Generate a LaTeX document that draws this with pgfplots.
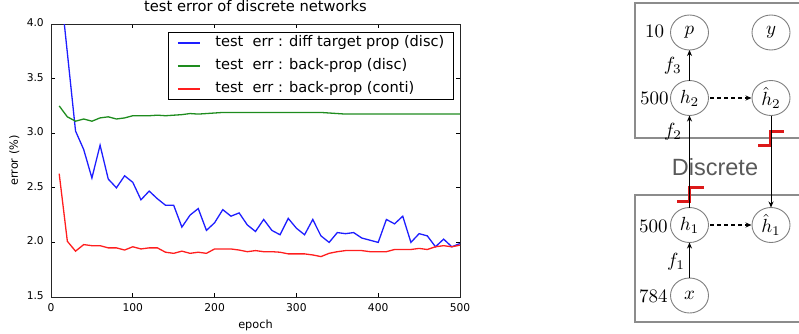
\documentclass[border=0pt]{standalone}
\usepackage{fontspec}
\usepackage{pgfplots}
\pgfplotsset{compat=1.18}
\usetikzlibrary{arrows.meta}
\newfontfamily\dejavu{DejaVu Sans}
\newfontfamily\libsans{Liberation Sans}
\definecolor{mblue}{RGB}{30,30,255}
\definecolor{mgreen}{RGB}{30,140,30}
\definecolor{mred}{RGB}{255,30,30}
\definecolor{stepred}{RGB}{220,25,25}
\pgfplotstableread{
x y
10 4.45
20 3.735
30 3.02
40 2.85
50 2.59
60 2.89
70 2.58
80 2.50
90 2.61
100 2.55
110 2.39
120 2.47
130 2.40
140 2.34
150 2.34
160 2.14
170 2.25
180 2.31
190 2.11
200 2.18
210 2.30
220 2.24
230 2.27
240 2.16
250 2.10
260 2.21
270 2.11
280 2.07
290 2.22
300 2.13
310 2.07
320 2.21
330 2.06
340 2.00
350 2.09
360 2.08
370 2.09
380 2.04
390 2.02
400 2.00
410 2.21
420 2.17
430 2.24
440 2.00
450 2.08
460 2.06
470 1.96
480 2.03
490 1.96
500 1.99
}\bluedata
\pgfplotstableread{
x y
10 3.25
20 3.15
30 3.11
40 3.13
50 3.11
60 3.14
70 3.15
80 3.13
90 3.14
100 3.16
110 3.16
120 3.16
130 3.165
140 3.16
150 3.165
160 3.17
170 3.18
180 3.175
190 3.18
200 3.185
210 3.19
220 3.19
230 3.19
240 3.19
250 3.19
260 3.19
270 3.19
280 3.19
290 3.19
300 3.19
310 3.19
320 3.19
330 3.19
340 3.185
350 3.18
360 3.175
370 3.175
380 3.175
390 3.175
400 3.175
410 3.175
420 3.175
430 3.175
440 3.175
450 3.175
460 3.175
470 3.175
480 3.175
490 3.175
500 3.175
}\greendata
\pgfplotstableread{
x y
10 2.63
20 2.01
30 1.92
40 1.98
50 1.97
60 1.97
70 1.95
80 1.95
90 1.93
100 1.96
110 1.94
120 1.95
130 1.95
140 1.91
150 1.90
160 1.92
170 1.90
180 1.91
190 1.90
200 1.94
210 1.94
220 1.94
230 1.93
240 1.915
250 1.925
260 1.915
270 1.915
280 1.91
290 1.895
300 1.895
310 1.895
320 1.885
330 1.87
340 1.90
350 1.915
360 1.925
370 1.925
380 1.925
390 1.915
400 1.915
410 1.915
420 1.935
430 1.935
440 1.935
450 1.945
460 1.935
470 1.96
480 1.97
490 1.96
500 1.975
}\reddata
\begin{document}
\begin{tikzpicture}
\useasboundingbox (0pt,0pt) rectangle (799pt,333pt);
\begin{axis}[
  at={(51pt,36pt)}, anchor=south west, scale only axis,
  width=409pt, height=273pt,
  xmin=0, xmax=500, ymin=1.5, ymax=4.0,
  xtick={0,100,...,500}, ytick={1.5,2.0,...,4.0},
  /pgf/number format/assume math mode=true,
  tick label style={font=\dejavu\fontsize{10.7}{12}\selectfont, inner sep=0pt},
  xticklabel style={anchor=base, yshift=-14pt},
  yticklabel style={anchor=base east, xshift=-7pt, yshift=-2.4pt,
    /pgf/number format/fixed, /pgf/number format/fixed zerofill, /pgf/number format/precision=1},
  tick align=inside, major tick length=4pt,
  tick style={black, line width=0.8pt},
  axis line style={black!85, line width=1pt},
  title={test error of discrete networks},
  title style={font=\dejavu\fontsize{14.7}{16}\selectfont, at={(axis description cs:0.5,1)}, anchor=base, yshift=7pt},
  xlabel={epoch}, ylabel={error (\%)},
  label style={font=\dejavu\fontsize{11.3}{13}\selectfont},
  xlabel style={at={(axis description cs:0.5,-0.1154)}, anchor=base},
  ylabel style={at={(axis description cs:-0.0807,0.5)}, anchor=base},
  legend cell align=left,
  legend style={at={(0.985,0.971)}, anchor=north east, draw=black, line width=1pt, fill=white,
    font=\dejavu\fontsize{14.6}{16}\selectfont, inner xsep=9pt, inner ysep=3.5pt, row sep=9pt,
    nodes={inner sep=0pt, text height=10.5pt, text depth=3.5pt},
    /tikz/every odd column/.append style={column sep=15pt}},
  legend image code/.code={\draw[#1, line width=1.2pt] (0pt,0pt) -- (22pt,0pt);},
]
\addplot[mblue, line width=1.3pt] table[x=x,y=y] {\bluedata};
\addlegendentry{test\ \ err : diff target prop (disc)}
\addplot[mgreen, line width=1.3pt] table[x=x,y=y] {\greendata};
\addlegendentry{test\ \ err : back-prop (disc)}
\addplot[mred, line width=1.3pt] table[x=x,y=y] {\reddata};
\addlegendentry{test\ \ err : back-prop (conti)}
\end{axis}
\begin{scope}[x=1pt,y=1pt]
\clip (0,0) rectangle (799,333);
\draw[black!45, line width=2pt] (635,329.7) rectangle (810,195);
\draw[black!45, line width=2pt] (635,138) rectangle (810,11.3);
\node[anchor=base, text=black!65, font=\libsans\fontsize{23.5}{26}\selectfont] at (715,158) {Discrete};
\foreach \cx/\cy in {689.5/300.5, 771/300.5, 689.5/235, 771/235, 689.5/108, 771/108, 689.5/37.5}
  \draw[black!50, line width=0.9pt, fill=white] (\cx,\cy) ellipse [x radius=19, y radius=17.5];
\begin{scope}[every node/.style={scale=1.9, inner sep=0pt}]
\node at (689.5,300.5) {$p$};
\node at (771,300.5) {$y$};
\node at (689.5,235) {$h_2$};
\node at (771,235) {$\hat{h}_2$};
\node at (689.5,108) {$h_1$};
\node at (771,108) {$\hat{h}_1$};
\node at (689.5,37.5) {$x$};
\node at (654.7,301.3) {10};
\node at (654.3,235) {500};
\node at (653.3,107) {500};
\node at (653.3,37) {784};
\node at (672.7,267.3) {$f_3$};
\node at (673,201.3) {$f_2$};
\node at (676,71.3) {$f_1$};
\end{scope}
\draw[stepred, line width=3pt] (677.3,132) -- (689.3,132) -- (689.3,145.7) -- (704,145.7);
\draw[stepred, line width=3pt] (758,188) -- (770.5,188) -- (770.5,201.3) -- (784,201.3);
\begin{scope}[line width=0.9pt, -{Stealth[length=6pt,width=5pt]}]
\draw (689.5,55) -- (689.5,90.5);
\draw (689.5,125.5) -- (689.5,217.5);
\draw (689.5,252.5) -- (689.5,283);
\draw (771,217.5) -- (771,125.5);
\draw[dash pattern=on 4pt off 3pt, line width=1.2pt] (710,235) -- (751.5,235);
\draw[dash pattern=on 4pt off 3pt, line width=1.2pt] (710,108) -- (751.5,108);
\end{scope}
\end{scope}
\end{tikzpicture}
\end{document}
